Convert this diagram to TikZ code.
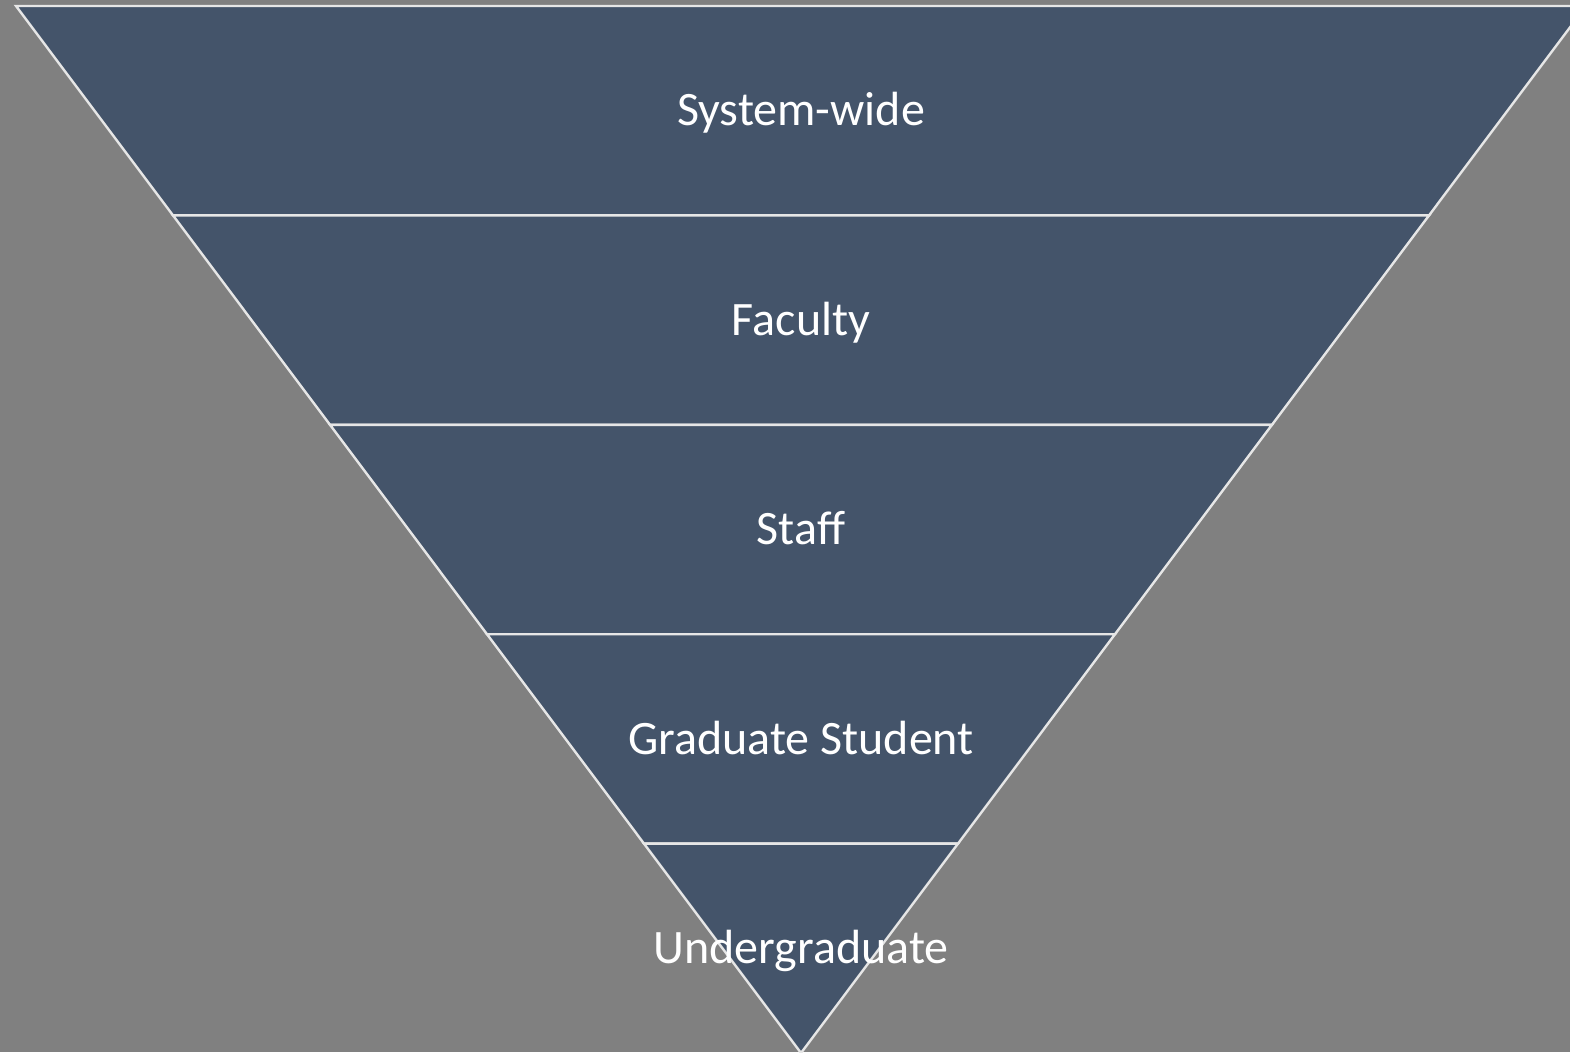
\documentclass[tikz,border=0pt]{standalone}
\usepackage{fontspec}
\setmainfont{Carlito}
\usetikzlibrary{calc}
\definecolor{slate}{HTML}{44546A}
\definecolor{backdrop}{HTML}{808080}
\definecolor{rim}{HTML}{E6E6E6}
\tikzset{
  band/.style={fill=slate,draw=rim,line width=2.4pt,line join=miter},
  level/.style={text=white,font=\fontsize{48}{58}\selectfont,inner sep=0pt,
    text height=30.5pt,text depth=0pt,anchor=center},
}

\begin{document}
\begin{tikzpicture}[x=1pt,y=1pt]
  \useasboundingbox (0,0) rectangle (1570,1052);
  \fill[backdrop] (0,0) rectangle (1570,1052);
  \clip (0,0) rectangle (1570,1052);
  % corners of the inverted pyramid
  \coordinate (tip) at (801,-1);
  \coordinate (tl) at (16,1046);
  \coordinate (tr) at (1586,1046);
  % five slices, top to bottom
  \foreach \i/\n in {0/sys,1/fac,2/stf,3/grad,4/ugrad}
  {
    \pgfmathsetmacro{\a}{(5-\i)/5}
    \pgfmathsetmacro{\b}{(4-\i)/5}
    \pgfmathsetmacro{\m}{(4.5-\i)/5}
    \draw[band] ($(tip)!\a!(tl)$) -- ($(tip)!\a!(tr)$) -- ($(tip)!\b!(tr)$) -- ($(tip)!\b!(tl)$) -- cycle;
    \coordinate (c\n) at ($(tip)!\m!(tl)$);
  }
  \foreach \t/\n in {System-wide/sys,Faculty/fac,Staff/stf,Graduate Student/grad,Undergraduate/ugrad}
    \node[level] (\n) at (c\n -| tip) {\t};
\end{tikzpicture}
\end{document}
